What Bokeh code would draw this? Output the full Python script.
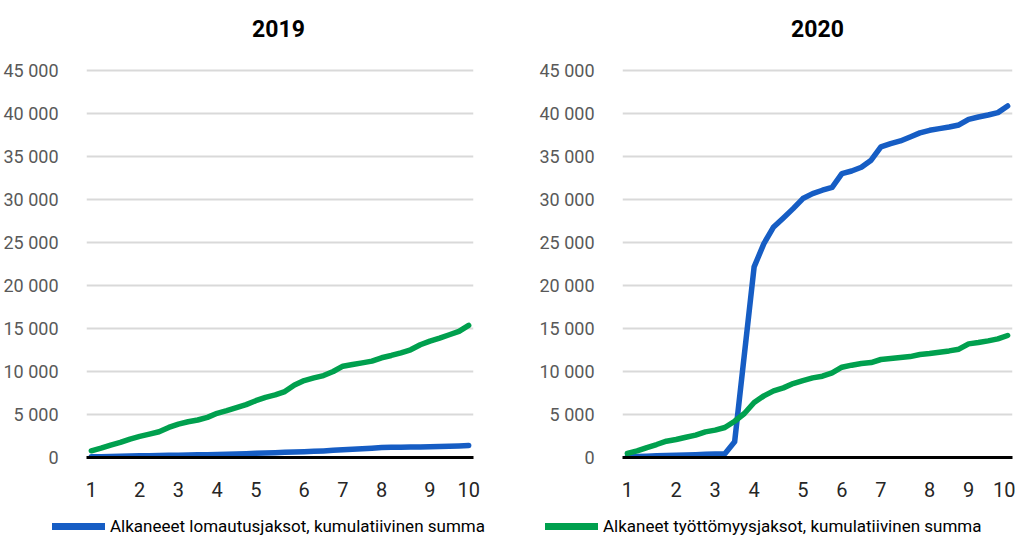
from bokeh.plotting import figure
from bokeh.layouts import row, column
from bokeh.models import Range1d, FixedTicker, Legend, LegendItem, Label
from bokeh.embed import file_html
from bokeh.resources import INLINE

# ---- data (cumulative sums, one point per working day) ----
days = list(range(40))
week_labels = ["1", "2", "3", "4", "5", "6", "7", "8", "9", "10"]
week_start_2019 = [0, 5, 9, 13, 17, 22, 26, 30, 35, 39]
week_start_2020 = [0, 5, 9, 13, 18, 22, 26, 31, 35, 39]

lomautus_2019 = [80, 100, 120, 140, 160, 190, 210, 230, 250, 270,
                 290, 310, 330, 360, 380, 420, 450, 480, 520, 560,
                 600, 630, 670, 720, 770, 830, 890, 950, 1010, 1080,
                 1150, 1180, 1200, 1210, 1230, 1260, 1290, 1320, 1350, 1400]
tyottomyys_2019 = [780, 1090, 1440, 1750, 2140, 2450, 2720, 3000, 3500, 3890,
                   4160, 4360, 4670, 5140, 5450, 5800, 6150, 6610, 7000, 7280,
                   7670, 8440, 8950, 9260, 9530, 10000, 10620, 10820, 11010, 11210,
                   11600, 11870, 12180, 12530, 13110, 13540, 13890, 14280, 14670, 15370]
lomautus_2020 = [100, 130, 160, 190, 220, 250, 290, 330, 370, 410,
                 450, 1820, 12000, 22170, 24880, 26820, 27870, 28950, 30120, 30700,
                 31090, 31430, 33020, 33330, 33760, 34580, 36130, 36510, 36820, 37290,
                 37760, 38060, 38260, 38450, 38680, 39340, 39610, 39840, 40120, 40890]
tyottomyys_2020 = [470, 775, 1160, 1510, 1900, 2090, 2360, 2600, 2980, 3180,
                   3490, 4220, 5120, 6400, 7170, 7750, 8100, 8600, 8950, 9260,
                   9460, 9850, 10500, 10740, 10930, 11050, 11400, 11510, 11630, 11740,
                   11980, 12090, 12250, 12400, 12600, 13220, 13370, 13570, 13800, 14190]

y_ticks = [0, 5000, 10000, 15000, 20000, 25000, 30000, 35000, 40000, 45000]

label_blue = "Alkaneeet lomautusjaksot, kumulatiivinen summa"
label_green = "Alkaneet työttömyysjaksot, kumulatiivinen summa"

BLUE = "#165DC4"
GREEN = "#00A04E"
FONT = "Roboto"


def make_panel(blue, green, week_start, width, border_left, border_right):
    p = figure(width=width, height=456, output_backend="svg", toolbar_location=None,
               title=None,
               x_range=Range1d(-0.5, len(days) - 0.5), y_range=Range1d(0, 45250),
               min_border_left=border_left, min_border_right=border_right,
               min_border_top=18, min_border_bottom=49)
    p.outline_line_color = None
    p.background_fill_color = "white"
    p.border_fill_color = "white"

    p.line(days, blue, line_color=BLUE, line_width=5.5, line_join="round", line_cap="round")
    p.line(days, green, line_color=GREEN, line_width=5.5, line_join="round", line_cap="round")

    # x axis
    p.xaxis.ticker = FixedTicker(ticks=week_start)
    p.xaxis.major_label_overrides = {i: lab for i, lab in zip(week_start, week_labels)}
    p.xaxis.axis_line_color = "black"
    p.xaxis.axis_line_width = 3
    p.xaxis.major_tick_line_color = None
    p.xaxis.minor_tick_line_color = None
    p.xaxis.major_label_standoff = 18
    p.xaxis.major_label_text_font = FONT
    p.xaxis.major_label_text_font_size = "20px"
    p.xaxis.major_label_text_color = "#262626"

    # y axis
    p.yaxis.ticker = FixedTicker(ticks=y_ticks)
    p.yaxis.major_label_overrides = {v: f"{v:,}".replace(",", " ") for v in y_ticks}
    p.yaxis.axis_line_color = None
    p.yaxis.major_tick_line_color = None
    p.yaxis.minor_tick_line_color = None
    p.yaxis.major_label_standoff = 22
    p.yaxis.major_label_text_font = FONT
    p.yaxis.major_label_text_font_size = "18px"
    p.yaxis.major_label_text_color = "#595959"

    p.xgrid.grid_line_color = None
    p.ygrid.grid_line_color = "#D9D9D9"
    p.ygrid.grid_line_width = 2
    return p


p1 = make_panel(lomautus_2019, tyottomyys_2019, week_start_2019, 505, 83, 32)
p2 = make_panel(lomautus_2020, tyottomyys_2020, week_start_2020, 510, 117, 3)

# ---- titles strip ----
pt = figure(width=1015, height=50, output_backend="svg", toolbar_location=None, title=None,
            x_axis_type=None, y_axis_type=None, x_range=Range1d(0, 1015), y_range=Range1d(0, 50),
            min_border=0)
pt.outline_line_color = None
pt.grid.visible = False
for txt, cx in (("2019", 278), ("2020", 817)):
    pt.add_layout(Label(x=cx, y=22, x_units="screen", y_units="screen", text=txt,
                        text_align="center", text_baseline="middle",
                        text_font=FONT, text_font_size="23px", text_font_style="bold",
                        text_color="black"))

# ---- legend strip ----
pl = figure(width=1015, height=35, output_backend="svg", toolbar_location=None, title=None,
            x_axis_type=None, y_axis_type=None, x_range=Range1d(0, 1), y_range=Range1d(0, 1),
            min_border=0)
pl.outline_line_color = None
pl.grid.visible = False
for lab, col, series, lx in ((label_blue, BLUE, lomautus_2019, 52),
                             (label_green, GREEN, tyottomyys_2019, 545)):
    # the series lies far outside this strip's range; only its legend sample shows
    sample = pl.line(days, series, line_color=col, line_width=7, line_cap="round")
    pl.add_layout(Legend(items=[LegendItem(label=lab, renderers=[sample])],
                         location=(lx, 5), padding=0, margin=0, spacing=0,
                         border_line_color=None, background_fill_alpha=0,
                         glyph_width=53, glyph_height=20, label_height=20, label_standoff=5,
                         label_text_font=FONT, label_text_font_size="17px",
                         label_text_color="black"), "center")

layout = column(pt, row(p1, p2), pl)
open("out.html", "w").write(file_html(layout, INLINE))
